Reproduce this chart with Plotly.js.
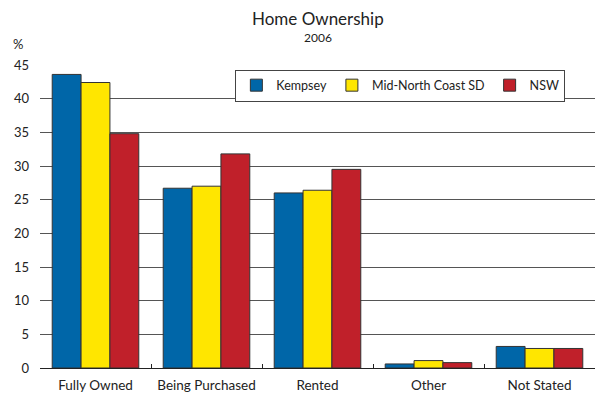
<!DOCTYPE html>
<html>
<head>
<meta charset="utf-8">
<script src="https://cdn.plot.ly/plotly-3.0.1.min.js"></script>
<style>html,body{margin:0;padding:0;background:#fff;}#chart{width:595px;height:396px;}</style>
</head>
<body>
<div id="chart"></div>
<script>
const categories = ["Fully Owned", "Being Purchased", "Rented", "Other", "Not Stated"];
const seriesNames = ["Kempsey", "Mid-North Coast SD", "NSW"];
const kempsey = [43.6, 26.7, 26.0, 0.6, 3.2];
const midNorthCoast = [42.4, 27.0, 26.4, 1.1, 2.9];
const nsw = [34.8, 31.8, 29.5, 0.8, 2.9];
const yTicks = [0, 5, 10, 15, 20, 25, 30, 35, 40, 45];
const colors = ["#0066a8", "#ffe600", "#c0202a"];

const font = "Lato, 'DejaVu Sans', sans-serif";
const values = [kempsey, midNorthCoast, nsw];
const traces = values.map((v, i) => ({
  type: "bar", name: seriesNames[i], x: categories, y: v,
  marker: {color: colors[i], line: {color: "#333", width: 1}},
  hoverinfo: "skip"
}));

const layout = {
  width: 595, height: 396,
  margin: {l: 40, r: 0, t: 65, b: 28},
  paper_bgcolor: "#fff", plot_bgcolor: "#fff",
  font: {family: font, size: 13, color: "#222"},
  barmode: "group", bargap: 0.22, bargroupgap: 0,
  xaxis: {
    type: "category", showgrid: false, showline: true, linecolor: "#222", linewidth: 1,
    ticks: "inside", tickson: "boundaries", ticklen: 4, tickcolor: "#222", tickangle: 0,
    ticklabelstandoff: 5,
    tickfont: {family: font, size: 13.5, color: "#222"}, fixedrange: true
  },
  yaxis: {
    range: [0, 45], tickvals: yTicks, showgrid: true, gridcolor: "#555", gridwidth: 1,
    zeroline: false, showline: false, ticks: "", ticklabelstandoff: 10,
    tickfont: {family: font, size: 13, color: "#222"}, fixedrange: true
  },
  legend: {
    orientation: "h", x: 0.352, y: 0.985, xanchor: "left", yanchor: "top",
    bgcolor: "#fff", bordercolor: "#444", borderwidth: 1,
    font: {family: font, size: 12.5, color: "#222"}, itemwidth: 30, traceorder: "normal"
  },
  annotations: [
    {text: "Home Ownership", xref: "paper", yref: "paper", x: 0.5, y: 1.155, xanchor: "center", yanchor: "middle", showarrow: false, font: {family: font, size: 17, color: "#222"}},
    {text: "2006", xref: "paper", yref: "paper", x: 0.5, y: 1.092, xanchor: "center", yanchor: "middle", showarrow: false, font: {family: font, size: 12, color: "#222"}},
    {text: "%", xref: "paper", yref: "paper", x: -0.04, y: 1.069, xanchor: "center", yanchor: "middle", showarrow: false, font: {family: font, size: 13, color: "#222"}}
  ],
  showlegend: true
};
Plotly.newPlot("chart", traces, layout, {displayModeBar: false, staticPlot: true});
</script>
</body>
</html>
